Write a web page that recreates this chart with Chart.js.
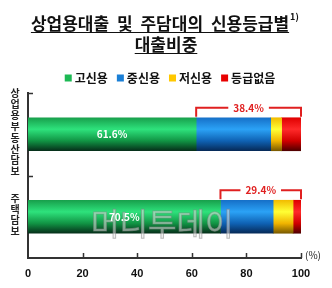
<!DOCTYPE html>
<html>
<head>
<meta charset="utf-8">
<script src="https://cdn.jsdelivr.net/npm/chart.js@4.4.1/dist/chart.umd.min.js"></script>
<style>
  html, body { margin: 0; padding: 0; background: #fff; }
  #wrap { width: 332px; height: 288px; position: relative; }
</style>
</head>
<body>
<div id="wrap"><canvas id="myChart" width="332" height="288"></canvas></div>
<script>
// data
const categories = ['상업용부동산담보', '주택담보'];
const seriesNames = ['고신용', '중신용', '저신용', '등급없음'];
const highGrade = [61.6, 70.5];
const midGrade = [27.3, 19.3];
const lowGrade = [4.0, 7.3];
const noGrade = [7.1, 2.9];
const nonHighShare = [38.4, 29.4]; // bracket labels (중신용 + 저신용 + 등급없음)
const xTicks = [0, 20, 40, 60, 80, 100];

const titleLines = ['상업용대출 및 주담대의 신용등급별', '대출비중'];
const legendColors = ['#1db954', '#1a7fd6', '#ffc800', '#e80000'];

const FONT = '"Noto Sans CJK KR", "Noto Sans", sans-serif';
Chart.defaults.font.family = FONT;

const BAR_H = 33;

// glossy vertical gradients like the original bars
const stops = [
    ['#18a04c', '#2ee27c', '#119444', '#06301a'],
    ['#1670c8', '#2ba2f6', '#0f62b4', '#062a58'],
    ['#f2bc00', '#ffff35', '#f0b400', '#7a5a00'],
    ['#e00000', '#ff2a2a', '#d00000', '#500000']
];

function glossy(k) {
    return (c) => {
        const ch = c.chart;
        const ys = ch.scales.y;
        if (!ch.chartArea || !ys) return legendColors[k];
        const yc = ys.getPixelForValue(c.dataIndex);
        const g = ch.ctx.createLinearGradient(0, yc - BAR_H / 2, 0, yc + BAR_H / 2);
        g.addColorStop(0, stops[k][0]);
        g.addColorStop(0.35, stops[k][1]);
        g.addColorStop(0.7, stops[k][2]);
        g.addColorStop(1, stops[k][3]);
        return g;
    };
}

const extras = {
    id: 'extras',
    afterDatasetsDraw(chart) {
        const ctx = chart.ctx;
        const xs = chart.scales.x;
        const ys = chart.scales.y;
        const area = chart.chartArea;

        // watermark
        ctx.save();
        ctx.font = '31px ' + FONT;
        ctx.textAlign = 'left';
        ctx.textBaseline = 'middle';
        ctx.fillStyle = 'rgba(230,230,230,0.55)';
        ctx.strokeStyle = 'rgba(130,130,130,0.5)';
        ctx.lineWidth = 1;
        ctx.fillText('머니투데이', 91, 223);
        ctx.strokeText('머니투데이', 91, 223);
        ctx.restore();

        ctx.save();
        // value in green segment
        ctx.font = 'bold 10px ' + FONT;
        ctx.textAlign = 'center';
        ctx.textBaseline = 'middle';
        ctx.fillStyle = '#ffffff';
        categories.forEach((c, i) => {
            const xm = (xs.getPixelForValue(0) + xs.getPixelForValue(highGrade[i])) / 2;
            ctx.fillText(highGrade[i].toFixed(1) + '%', xm, ys.getPixelForValue(i));
        });

        // red brackets over the non-high-grade part
        ctx.strokeStyle = '#e02020';
        ctx.fillStyle = '#e02020';
        ctx.lineWidth = 2;
        categories.forEach((c, i) => {
            const xl = xs.getPixelForValue(highGrade[i]);
            const xr = xs.getPixelForValue(100);
            const top = ys.getPixelForValue(i) - BAR_H / 2;
            const yb = top - 10;
            const label = nonHighShare[i].toFixed(1) + '%';
            const xm = (xl + xr) / 2;
            const half = ctx.measureText(label).width / 2 + 5;
            ctx.beginPath();
            ctx.moveTo(xl, top - 1);
            ctx.lineTo(xl, yb);
            ctx.lineTo(xm - half, yb);
            ctx.moveTo(xm + half, yb);
            ctx.lineTo(xr, yb);
            ctx.lineTo(xr, top - 1);
            ctx.stroke();
            ctx.fillText(label, xm, yb);
        });

        // inner tick marks
        ctx.strokeStyle = '#333';
        ctx.lineWidth = 1.5;
        ctx.beginPath();
        xTicks.slice(1).forEach(v => {
            const px = Math.round(xs.getPixelForValue(v)) + 0.5;
            ctx.moveTo(px, area.bottom);
            ctx.lineTo(px, area.bottom - 5);
        });
        [area.top, (ys.getPixelForValue(0) + ys.getPixelForValue(1)) / 2].forEach(py => {
            ctx.moveTo(area.left, Math.round(py) + 0.5);
            ctx.lineTo(area.left + 5, Math.round(py) + 0.5);
        });
        ctx.stroke();

        // vertical category labels
        ctx.fillStyle = '#222';
        ctx.font = 'bold 10px ' + FONT;
        categories.forEach((c, i) => {
            const chars = Array.from(c);
            const step = 11.2;
            const yc = ys.getPixelForValue(i) - 2;
            chars.forEach((ch, j) => {
                ctx.fillText(ch, 15, yc + (j - (chars.length - 1) / 2) * step);
            });
        });

        // unit
        ctx.font = '10px ' + FONT;
        ctx.fillStyle = '#222';
        ctx.fillText('(%)', 313, area.bottom - 3);
        ctx.restore();
    },
    afterDraw(chart) {
        const ctx = chart.ctx;
        ctx.save();
        ctx.fillStyle = '#111';
        ctx.strokeStyle = '#111';
        ctx.textBaseline = 'middle';
        ctx.textAlign = 'left';

        // title with underline
        ctx.font = 'bold 17px ' + FONT;
        ctx.wordSpacing = '4px';
        const w1 = ctx.measureText(titleLines[0]).width;
        const x1 = 160 - w1 / 2;
        ctx.fillText(titleLines[0], x1, 24);
        const w2 = ctx.measureText(titleLines[1]).width;
        const x2 = 166 - w2 / 2;
        ctx.fillText(titleLines[1], x2, 45);
        ctx.wordSpacing = '0px';
        ctx.lineWidth = 1.2;
        ctx.beginPath();
        ctx.moveTo(x1, 32.5); ctx.lineTo(x1 + w1, 32.5);
        ctx.moveTo(x2, 53.5); ctx.lineTo(x2 + w2, 53.5);
        ctx.stroke();
        ctx.font = 'bold 9px ' + FONT;
        ctx.fillText('1)', x1 + w1 + 1, 17);

        // legend
        ctx.font = 'bold 12px ' + FONT;
        const gap = 9;
        const widths = seriesNames.map(n => 10 + ctx.measureText(n).width);
        const total = widths.reduce((a, b) => a + b, 0) + gap * (seriesNames.length - 1);
        let lx = 170 - total / 2;
        const ly = 78;
        seriesNames.forEach((n, k) => {
            ctx.fillStyle = legendColors[k];
            ctx.fillRect(lx, ly - 3.5, 7, 7);
            ctx.fillStyle = '#111';
            ctx.fillText(n, lx + 10, ly);
            lx += widths[k] + gap;
        });
        ctx.restore();
    }
};

const ctx = document.getElementById('myChart').getContext('2d');
new Chart(ctx, {
    type: 'bar',
    data: {
        labels: categories,
        datasets: [highGrade, midGrade, lowGrade, noGrade].map((vals, k) => ({
            label: seriesNames[k],
            data: vals,
            backgroundColor: glossy(k),
            borderWidth: 0,
            barThickness: BAR_H
        }))
    },
    options: {
        indexAxis: 'y',
        responsive: false,
        animation: false,
        layout: { padding: { top: 93, left: 28, right: 31, bottom: 0 } },
        scales: {
            x: {
                stacked: true,
                min: 0,
                max: 100,
                afterBuildTicks: (s) => { s.ticks = xTicks.map(v => ({ value: v })); },
                afterFit: (s) => { s.height = 30; },
                grid: { display: false, drawTicks: false },
                border: { display: true, color: '#333', width: 2 },
                ticks: {
                    padding: 9,
                    color: '#111',
                    font: { size: 11, weight: 'bold', family: '"Liberation Sans", Arial, sans-serif' }
                }
            },
            y: {
                stacked: true,
                afterFit: (s) => { s.width = 0; },
                grid: { display: false, drawTicks: false },
                border: { display: true, color: '#333', width: 2 },
                ticks: { display: false }
            }
        },
        plugins: {
            legend: { display: false },
            tooltip: { enabled: false }
        }
    },
    plugins: [extras]
});
</script>
</body>
</html>
